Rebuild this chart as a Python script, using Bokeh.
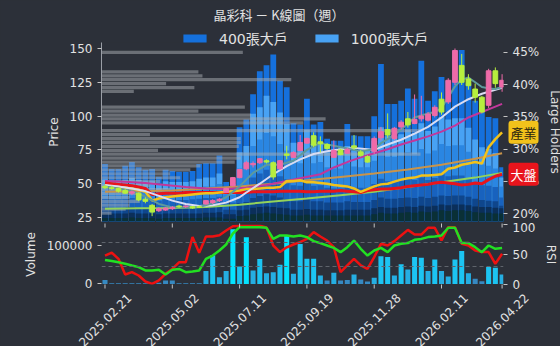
import numpy as np
from math import pi
from bokeh.plotting import figure
from bokeh.layouts import column
from bokeh.models import (Range1d, LinearAxis, FixedTicker, PrintfTickFormatter, Legend, LegendItem,
                          Label, LabelSet, ColumnDataSource, Span)
from bokeh.core.properties import value
from bokeh.embed import file_html
from bokeh.resources import INLINE

# ---------------- data ----------------
tick_idx = [0, 10, 20, 30, 40, 50, 59]
tick_labels = ["2025.02.21", "2025.05.02", "2025.07.11", "2025.09.19",
               "2025.11.28", "2026.02.11", "2026.04.22"]

open_ = [48.0, 47.0, 46.5, 45.0, 43.0, 43.0, 38.5, 34.0, 30.0, 30.5,
         31.5, 33.5, 33.0, 33.0, 33.0, 35.0, 36.0, 37.5, 43.5, 48.5,
         54.5, 61.0, 64.0, 65.5, 67.0, 65.5, 61.0, 72.0, 69.5, 74.5,
         80.0, 85.5, 81.0, 79.0, 69.5, 75.0, 72.5, 78.0, 73.5, 70.0,
         74.0, 84.0, 90.0, 83.5, 92.0, 98.0, 94.5, 98.0, 97.0, 100.5,
         112.5, 110.5, 125.0, 137.5, 127.5, 120.0, 114.0, 108.0, 133.5, 121.5]
high = [49.5, 48.5, 47.0, 46.0, 45.0, 43.5, 40.0, 35.0, 32.5, 32.5,
        33.5, 34.5, 34.0, 33.5, 34.0, 38.0, 38.5, 39.5, 47.0, 55.0,
        61.0, 67.0, 66.5, 69.0, 68.0, 66.5, 67.5, 78.0, 74.0, 86.0,
        84.0, 88.0, 85.0, 80.0, 82.0, 76.0, 76.5, 86.0, 75.0, 71.0,
        85.0, 92.0, 102.0, 92.0, 97.0, 103.0, 116.0, 115.0, 103.0, 108.0,
        117.5, 128.0, 150.0, 146.0, 131.0, 124.0, 115.0, 135.0, 136.0, 131.0]
low = [46.0, 45.5, 43.5, 42.5, 41.5, 37.0, 35.5, 26.0, 29.0, 30.0,
       30.5, 32.0, 32.0, 31.5, 32.0, 34.5, 35.0, 36.5, 43.0, 48.0,
       54.0, 60.0, 62.0, 64.5, 65.0, 53.0, 60.0, 68.0, 69.0, 74.0,
       79.5, 77.0, 73.0, 75.0, 69.0, 71.0, 72.0, 75.0, 70.0, 65.5,
       72.0, 82.0, 84.0, 82.0, 90.0, 91.5, 94.0, 96.0, 96.0, 99.0,
       101.0, 109.0, 123.0, 123.0, 119.5, 110.0, 102.0, 106.0, 121.0, 118.0]
close = [47.0, 46.5, 44.5, 43.0, 44.0, 38.0, 37.0, 29.0, 31.5, 32.0,
         32.5, 32.8, 33.5, 32.0, 32.5, 37.5, 37.5, 38.5, 46.5, 54.5,
         60.5, 65.5, 65.0, 68.5, 66.0, 55.0, 67.0, 71.0, 73.0, 80.5,
         83.5, 78.5, 79.5, 76.0, 74.5, 71.5, 75.5, 76.5, 71.0, 66.0,
         83.5, 88.5, 86.0, 91.0, 95.5, 93.5, 97.5, 100.0, 101.5, 106.5,
         103.0, 126.5, 148.5, 125.0, 122.5, 114.0, 103.0, 133.5, 124.0, 126.5]

# large holder ratios (%)
holders_400 = [27.7, 26.9, 26.9, 27.4, 28.0, 27.2, 26.8, 26.9, 25.7, 26.8,
               26.6, 26.5, 26.5, 26.6, 27.7, 27.8, 27.8, 29.0, 24.9, 24.6,
               33.4, 34.6, 38.5, 42.1, 43.0, 44.7, 40.6, 39.6, 34.0, 33.8,
               37.8, 33.8, 34.2, 31.6, 31.3, 31.3, 33.9, 32.1, 32.0, 32.0,
               35.1, 43.2, 37.0, 37.0, 37.5, 39.4, 37.8, 43.7, 37.5, 39.0,
               41.2, 40.6, 45.3, 45.4, 40.2, 37.5, 36.5, 35.0, 34.8, 27.2]
holders_1000 = [25.3, 25.0, 25.0, 25.2, 25.5, 25.2, 25.0, 25.0, 24.6, 25.0,
                24.9, 24.9, 24.9, 25.0, 25.4, 25.6, 25.6, 26.2, 23.8, 23.6,
                29.5, 30.5, 35.5, 36.5, 38.3, 37.3, 35.7, 33.9, 31.0, 30.8,
                33.0, 30.8, 31.0, 29.5, 29.3, 29.3, 30.5, 29.8, 29.7, 29.7,
                31.3, 33.4, 32.0, 32.0, 32.3, 33.0, 32.5, 34.0, 32.8, 33.5,
                35.0, 34.6, 34.8, 34.8, 33.3, 31.5, 30.3, 30.0, 29.4, 25.6]
holders_t3 = [24.0, 23.8, 23.8, 23.9, 24.1, 23.9, 23.8, 23.8, 23.5, 23.8,
              23.7, 23.7, 23.7, 23.8, 24.0, 24.2, 24.2, 24.6, 23.0, 22.9,
              27.0, 27.8, 30.5, 31.5, 32.5, 32.0, 30.8, 29.8, 28.0, 27.8,
              29.0, 27.8, 28.0, 27.2, 27.0, 27.0, 27.8, 27.3, 27.2, 27.2,
              28.2, 29.6, 28.8, 28.8, 29.0, 29.5, 29.2, 30.0, 29.3, 29.8,
              30.8, 30.5, 30.6, 30.6, 29.6, 28.4, 27.6, 27.4, 27.0, 24.2]
holders_t4 = [22.3, 22.2, 22.2, 22.3, 22.4, 22.3, 22.2, 22.2, 22.0, 22.2,
              22.1, 22.1, 22.1, 22.2, 22.3, 22.4, 22.4, 22.6, 21.8, 21.7,
              23.8, 24.2, 25.6, 26.2, 26.8, 26.5, 25.8, 25.3, 24.4, 24.3,
              25.0, 24.3, 24.4, 24.0, 23.9, 23.9, 24.3, 24.0, 24.0, 24.0,
              24.6, 25.4, 25.0, 25.0, 25.1, 25.4, 25.2, 25.6, 25.2, 25.5,
              26.0, 25.8, 25.9, 25.9, 25.4, 24.8, 24.4, 24.3, 24.1, 22.5]
holders_t5 = [20.9, 20.8, 20.8, 20.9, 21.0, 20.9, 20.8, 20.8, 20.7, 20.8,
              20.8, 20.8, 20.8, 20.8, 20.9, 21.0, 21.0, 21.1, 20.6, 20.6,
              21.6, 21.8, 22.4, 22.7, 23.0, 22.8, 22.5, 22.2, 21.9, 21.9,
              22.2, 21.9, 21.9, 21.7, 21.7, 21.7, 21.9, 21.8, 21.8, 21.8,
              22.1, 22.5, 22.3, 22.3, 22.4, 22.5, 22.4, 22.6, 22.4, 22.6,
              22.8, 22.7, 22.8, 22.8, 22.6, 22.3, 22.1, 22.0, 21.9, 21.2]
holders_t6 = [20.0, 20.0, 20.0, 20.0, 20.1, 20.0, 20.0, 20.0, 19.9, 20.0,
              20.0, 20.0, 20.0, 20.0, 20.0, 20.1, 20.1, 20.2, 19.9, 19.9,
              20.5, 20.6, 20.9, 21.0, 21.1, 21.0, 20.9, 20.8, 20.6, 20.6,
              20.7, 20.6, 20.6, 20.5, 20.5, 20.5, 20.6, 20.6, 20.6, 20.6,
              20.8, 21.0, 20.9, 20.9, 21.0, 21.1, 21.0, 21.2, 21.1, 21.2,
              21.4, 21.3, 21.4, 21.4, 21.3, 21.1, 21.0, 21.0, 20.9, 20.8]
holders_t7 = [19.3, 19.3, 19.3, 19.3, 19.4, 19.3, 19.3, 19.3, 19.2, 19.3,
              19.3, 19.3, 19.3, 19.3, 19.3, 19.4, 19.4, 19.4, 19.2, 19.2,
              19.6, 19.7, 19.9, 20.0, 20.1, 20.0, 19.9, 19.8, 19.7, 19.7,
              19.8, 19.7, 19.7, 19.7, 19.7, 19.7, 19.7, 19.7, 19.7, 19.7,
              19.9, 20.1, 20.0, 20.0, 20.1, 20.2, 20.1, 20.3, 20.2, 20.3,
              20.5, 20.4, 20.5, 20.5, 20.4, 20.2, 20.1, 20.1, 20.0, 20.0]

# volume profile (price bin centre, relative size)
vp_price = [147.2, 132.7, 129.8, 126.9, 124.0, 121.1, 118.2, 106.6, 103.7, 100.8,
            97.9, 95.0, 89.2, 86.3, 83.4, 80.5, 77.6, 74.7, 71.8, 68.9,
            66.0, 63.1, 60.2, 57.3, 54.4, 51.5, 48.6, 45.7, 42.8, 39.9,
            37.0, 34.1, 31.2, 28.3]
vp_size = [0.70, 0.48, 0.50, 0.94, 0.32, 0.46, 0.16, 0.71, 0.48, 0.74,
           1.11, 1.00, 1.58, 0.24, 0.69, 0.69, 0.68, 0.28, 1.58, 0.69,
           0.66, 0.49, 0.44, 0.34, 0.39, 0.29, 0.24, 0.34, 0.19, 0.14,
           0.19, 0.14, 0.12, 0.05]

# moving averages (week index, price)
ma_white_x = [0, 2, 4, 6, 8, 10, 12, 14, 16, 18, 20, 21, 23, 25, 27, 29, 31, 33, 35, 37, 39, 40,
              42, 44, 46, 48, 50, 52, 54, 56, 58, 59]
ma_white_y = [49, 48, 46.5, 44.5, 41, 37.5, 35, 33.5, 34, 36, 40, 43.5, 50, 57, 63, 68, 72, 74,
              75.5, 76.5, 75.5, 75, 79, 82.5, 87, 92, 99, 107, 112.5, 116.5, 119.5, 121]
ma_teal_x = [0, 2, 4, 6, 8, 10, 12, 14, 16, 18, 20, 22, 24, 26, 28, 30, 32, 34, 36, 38, 40, 41,
             42, 44, 46, 48, 49, 50, 51, 52, 53, 54, 55, 56, 57, 58, 59]
ma_teal_y = [48, 46.5, 44.5, 40.5, 35, 32.5, 32.5, 32.8, 35.5, 40, 48, 58, 64, 64, 67, 75, 80,
             78, 76, 74, 75.5, 80, 83, 90, 99, 102, 103, 106, 114, 122, 127, 128.5, 125, 121.5,
             120.5, 120, 121.5]
ma_mag_x = [0, 3, 6, 9, 12, 15, 18, 21, 24, 27, 29, 32, 34, 36, 38, 40, 42, 44, 46, 48, 50,
            52, 54, 56, 58, 59]
ma_mag_y = [52, 51.5, 50.5, 49, 47.5, 46.5, 46, 47, 49, 52, 54, 57, 62, 66, 69.5, 72.5, 75.5,
            79, 82, 85, 88.5, 93, 99, 103, 107, 109]
ma_tan_x = [0, 5, 10, 15, 20, 25, 30, 35, 40, 45, 50, 55, 59]
ma_tan_y = [44, 44.5, 45, 46.5, 48, 50, 52.5, 55, 57.5, 60.5, 64, 68.5, 72.5]
ma_green_x = [0, 5, 10, 15, 20, 25, 30, 35, 40, 45, 50, 55, 59]
ma_green_y = [31.5, 31.8, 32, 32.8, 34.5, 36.8, 39, 41.5, 44, 47.5, 51, 54.5, 58]

industry = [48.5, 48, 47.5, 47, 46.5, 45.5, 44, 37.5, 39, 40,
            40.5, 41, 41.5, 42, 42.5, 43, 43, 43.5, 44, 44.5,
            45, 46, 46, 46.5, 47, 47, 47.5, 52, 52, 52.5,
            51, 51, 50.5, 50, 49, 48.5, 48, 46.5, 44, 46,
            48, 49.5, 50, 51.5, 53, 54, 54.5, 56, 56, 56.5,
            57, 61, 62, 64, 65, 66, 65, 77, 83, 88]
market = [50.5, 50, 49.5, 49, 48.5, 47.5, 46.5, 42, 42.5, 43,
          43, 43, 43.5, 43.5, 43.5, 43.5, 43.5, 43.5, 43.5, 43.5,
          43.5, 43.5, 44, 44, 44, 44, 44.5, 44.5, 44.5, 44.5,
          44, 44, 44.5, 44.5, 44.5, 45, 44.5, 44, 43.5, 45,
          45.5, 46, 46, 46.5, 47, 48, 48.5, 49, 49.5, 50.5,
          51, 50.5, 50, 49, 49.5, 50.5, 50, 53, 55.5, 57]

volume = [10400, 1500, 2000, 2000, 2000, 2000, 1500, 2000, 3000, 8600,
          8600, 2000, 2000, 1500, 1500, 33000, 74000, 17000, 33000, 141000,
          45000, 120000, 34700, 64000, 27700, 30000, 49600, 126000, 26000, 102600,
          65000, 65000, 21700, 8600, 28700, 8600, 10400, 24300, 11300, 6000,
          15700, 71300, 69500, 21700, 50400, 37300, 69500, 67700, 33000, 62600,
          33000, 19000, 62600, 85000, 27700, 13000, 6900, 43400, 41600, 24300]
rsi_red = [48, 53, 42.8, 16.7, 20.6, 15, 5, 1, 6.7, 17.8,
           26, 37, 37, 79, 53, 80, 80, 82, 90, 97,
           98, 98, 98, 98, 95, 65, 54, 62, 66.7, 70.6,
           76, 87.3, 80, 73.3, 62.2, 20.6, 31.7, 42.8, 31.7, 26.1,
           45.6, 67.8, 65, 72.3, 81.7, 91, 83.3, 83.3, 94.5, 94.5,
           73.3, 95.6, 95.6, 67.8, 65, 56.7, 54, 54, 34.5, 51.2]
rsi_green = [41, 39, 37, 34.5, 31.7, 29, 23.4, 23.4, 24.5, 16.7,
             24.5, 26, 20.6, 21.7, 23.4, 42.8, 48.3, 56.7, 66.7, 85,
             95.6, 95.6, 95.6, 95.6, 94.5, 76, 81.7, 81.7, 80, 81.7,
             79, 72.3, 69, 65, 61, 53.9, 62.2, 73.3, 59.5, 48.3,
             56.7, 61, 53.9, 65, 67.8, 69, 74.5, 76, 79, 80,
             81.7, 94.5, 94.5, 69, 69, 62.2, 53.9, 65, 59.5, 61]

# ---------------- style / layout constants ----------------
BG = "#2c3039"
TXT = "#e2e2e2"
TICKC = "#c4c4c4"
FONT = "DejaVu Sans"
CJK = "Noto Sans CJK TC"
UP = "#ef6aa8"
DOWN = "#b6ef3e"
W, H = 560, 346
FL, FW = 101, 402            # frame left, frame width
P1_TOP, P1_FH = 42, 179      # main frame top & height
P2_TOP, P2_FH = 224, 60      # lower frame top & height
P_LO, P_HI = 22.04, 154.44

n = len(close)
xs = np.arange(n)
XR = Range1d(-0.52, 59.21)

# ---------------- main figure ----------------
p1 = figure(frame_width=FW, frame_height=P1_FH, x_range=XR, y_range=Range1d(P_LO, P_HI),
            output_backend="svg", toolbar_location=None, x_axis_location=None,
            min_border_left=FL, min_border_right=W - FL - FW, min_border_top=P1_TOP,
            min_border_bottom=1,
            background_fill_color=BG, border_fill_color=BG, outline_line_color=None)
p1.extra_y_ranges = {"pct": Range1d(18.76, 46.55)}
p1.grid.visible = False

base = 18.76
tiers = [(holders_400, "#1570dc"), (holders_1000, "#48a2f4"), (holders_t3, "#2a86e2"),
         (holders_t4, "#1862be"), (holders_t5, "#0f468c"), (holders_t6, "#0b2f5a"),
         (holders_t7, "#0a3036")]
for vals, col in tiers:
    p1.vbar(x=xs, top=vals, bottom=base, width=0.86, fill_color=col, line_color=None,
            y_range_name="pct")

vp_left = XR.start
vp_scale = 30.0
p1.hbar(y=vp_price, left=vp_left, right=[vp_left + v * vp_scale for v in vp_size], height=2.4,
        fill_color="#a9adb3", fill_alpha=0.5, line_color=None)

p1.line(ma_tan_x, ma_tan_y, line_color="#c9944a", line_width=2)
p1.line(ma_green_x, ma_green_y, line_color="#93d35a", line_width=2)
p1.line(ma_mag_x, ma_mag_y, line_color="#c2379b", line_width=2)
p1.line(xs, market, line_color="#e8141c", line_width=3)
p1.line(xs, industry, line_color="#f2c21b", line_width=2.5)
p1.line(ma_white_x, ma_white_y, line_color="#d9dcf2", line_width=2)
p1.line(ma_teal_x, ma_teal_y, line_color="#5e9a9c", line_width=2)

o = np.array(open_); c = np.array(close)
ccol = [UP if cc >= oo else DOWN for oo, cc in zip(open_, close)]
p1.segment(x0=xs, y0=low, x1=xs, y1=high, line_color=ccol, line_width=1)
p1.vbar(x=xs, top=np.maximum(o, c), bottom=np.minimum(o, c), width=0.7,
        fill_color=ccol, line_color=ccol)

yl = p1.yaxis[0]
yl.ticker = FixedTicker(ticks=[25, 50, 75, 100, 125, 150])
yl.axis_label = "Price"
ax_r = LinearAxis(y_range_name="pct", ticker=FixedTicker(ticks=[20, 25, 30, 35, 40, 45]),
                  formatter=PrintfTickFormatter(format="%d%%"), axis_label="Large Holders")
p1.add_layout(ax_r, "right")


def style_axis(ax):
    ax.major_label_text_font = FONT
    ax.major_label_text_font_size = "12px"
    ax.major_label_text_color = TXT
    ax.axis_label_text_font = FONT
    ax.axis_label_text_font_size = "12px"
    ax.axis_label_text_font_style = "normal"
    ax.axis_label_text_color = TXT
    ax.major_tick_line_color = TICKC
    ax.major_tick_out = 4
    ax.major_tick_in = 0
    ax.minor_tick_line_color = None
    ax.major_label_standoff = 5
    ax.axis_label_standoff = 6


for ax in [yl, ax_r]:
    style_axis(ax)
yl.axis_line_color = "#9a9ea6"
ax_r.axis_line_color = None

# ---------------- lower figure ----------------
p2 = figure(frame_width=FW, frame_height=P2_FH, x_range=XR, y_range=Range1d(-1500, 153000),
            output_backend="svg", toolbar_location=None, x_axis_location=None,
            min_border_left=FL, min_border_right=W - FL - FW,
            min_border_top=P2_TOP - P1_TOP - P1_FH - 1,
            min_border_bottom=H - P2_TOP - P2_FH,
            background_fill_color=BG, border_fill_color=BG, outline_line_color=None)
p2.extra_y_ranges = {"rsi": Range1d(0, 100)}
p2.grid.visible = False

vcol = []
for v in volume:
    if v > 110000:
        vcol.append("#05e3ff")
    elif v > 40000:
        vcol.append("#1cc4f2")
    elif v > 15000:
        vcol.append("#25aee2")
    else:
        vcol.append("#3689c2")
p2.vbar(x=xs, top=volume, bottom=0, width=0.75, fill_color=vcol, line_color=None)

for lv in [30, 70]:
    p2.add_layout(Span(location=lv, dimension="width", y_range_name="rsi",
                       line_color="#5f646c", line_dash="4 3", line_width=1))
p2.line(xs, rsi_red, line_color="#ee1111", line_width=2.5, y_range_name="rsi")
p2.line(xs, rsi_green, line_color="#22e022", line_width=2.5, y_range_name="rsi")

vl = p2.yaxis[0]
vl.ticker = FixedTicker(ticks=[0, 100000])
vl.formatter = PrintfTickFormatter(format="%d")
vl.axis_label = "Volume"
ax_rsi = LinearAxis(y_range_name="rsi", ticker=FixedTicker(ticks=[0, 50, 100]), axis_label="RSI")
p2.add_layout(ax_rsi, "right")
for ax in [vl, ax_rsi]:
    style_axis(ax)
    ax.axis_line_color = None

# ---------------- transparent overlay: title, legend, badges, dates ----------------
ppu = FW / (XR.end - XR.start)
ov_x0 = XR.start - FL / ppu
ov_x1 = ov_x0 + W / ppu
pp_price = P1_FH / (P_HI - P_LO)
ov_y1 = P_HI + P1_TOP / pp_price
ov_y0 = ov_y1 - H / pp_price


def px2y(px):
    return ov_y1 - px / pp_price


ov = figure(frame_width=W, frame_height=H, x_range=Range1d(ov_x0, ov_x1),
            y_range=Range1d(ov_y0, ov_y1), min_border=0,
            min_border_left=0, min_border_right=0, min_border_top=0, min_border_bottom=0,
            x_axis_location=None, y_axis_location=None, toolbar_location=None,
            output_backend="svg", background_fill_alpha=0, border_fill_alpha=0,
            outline_line_color=None, margin=(-H, 0, 0, 0))
try:
    ov.frame_align = False
except Exception:
    pass
ov.grid.visible = False

# small x ticks between panels and under the lower panel
ov.segment(x0=tick_idx, x1=tick_idx, y0=px2y(P1_TOP + P1_FH + 2), y1=px2y(P2_TOP + 3),
           line_color=TICKC, line_width=1)
ov.segment(x0=tick_idx, x1=tick_idx, y0=px2y(P2_TOP + P2_FH), y1=px2y(P2_TOP + P2_FH + 4),
           line_color=TICKC, line_width=1)

date_src = ColumnDataSource(dict(x=tick_idx, t=tick_labels))
ov.add_layout(LabelSet(x="x", y=H - 319.5, y_units="screen", text="t", source=date_src,
                       angle=pi / 4, text_align="center", text_baseline="middle",
                       text_font=value(FONT), text_font_size=value("12px"),
                       text_color=TXT))

ov.add_layout(Label(x=278.5, y=H - 14, x_units="screen", y_units="screen",
                    text="晶彩科 － K線圖（週）", text_align="center", text_baseline="middle",
                    text_font=CJK, text_font_size="13px", text_color=TXT))

off = ov_x0 - 50
lg1 = ov.vbar(x=[off], top=[0], width=0.86, fill_color="#1570dc", line_color=None)
lg2 = ov.vbar(x=[off], top=[0], width=0.86, fill_color="#48a2f4", line_color=None)
legend = Legend(items=[LegendItem(label="400張大戶", renderers=[lg1]),
                       LegendItem(label="1000張大戶", renderers=[lg2])],
                orientation="horizontal", location=(180, H - 48), glyph_width=29,
                glyph_height=10, label_standoff=10, spacing=24, padding=0, margin=0,
                border_line_alpha=0, background_fill_alpha=0,
                label_text_color=TXT, label_text_font_size="14px",
                label_text_font=FONT + ", " + CJK)
ov.add_layout(legend)

ov.add_layout(Label(x=XR.end, y=industry[-1], x_offset=5, text="產業", text_baseline="middle",
                    text_font=CJK, text_font_size="13px", text_color="#2a2410",
                    background_fill_color="#f2c21b", padding=2, border_radius=3))
ov.add_layout(Label(x=XR.end, y=market[-1], x_offset=5, text="大盤", text_baseline="middle",
                    text_font=CJK, text_font_size="13px", text_color="#ffffff",
                    background_fill_color="#e8141c", padding=2, border_radius=3))

layout = column(p1, p2, ov, spacing=0, styles={"background-color": BG})
open("out.html", "w").write(file_html(layout, INLINE))
